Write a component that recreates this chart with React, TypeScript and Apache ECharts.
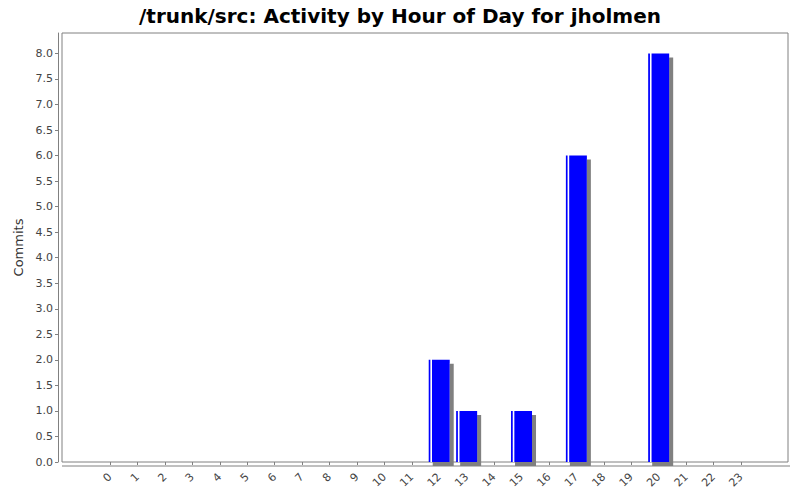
import { useEffect, useRef } from 'react'
import * as echarts from 'echarts'

const hours = [
  '0', '1', '2', '3', '4', '5', '6', '7', '8', '9', '10', '11',
  '12', '13', '14', '15', '16', '17', '18', '19', '20', '21', '22', '23'
]
const commits = [0, 0, 0, 0, 0, 0, 0, 0, 0, 0, 0, 0, 2, 1, 0, 1, 0, 6, 0, 0, 8, 0, 0, 0]

const yMin = 0
const yMax = 8.4
const yStep = 0.5

export default function App() {
  const ref = useRef<HTMLDivElement | null>(null)

  useEffect(() => {
    if (!ref.current) return
    const chart = echarts.init(ref.current, undefined, { renderer: 'svg' })

    const font = 'DejaVu Sans'
    const axisGray = '#808080'

    chart.setOption({
      animation: false,
      backgroundColor: '#ffffff',
      textStyle: { fontFamily: font },
      title: {
        text: '/trunk/src: Activity by Hour of Day for jholmen',
        left: 'center',
        top: 1,
        textStyle: { fontFamily: font, fontWeight: 'bold', fontSize: 20, color: '#000' }
      },
      grid: { left: 96.3, right: 45.3, top: 33, bottom: 38 },
      graphic: [
        {
          type: 'rect',
          shape: { x: 62, y: 33, width: 726, height: 429 },
          style: { fill: 'none', stroke: axisGray, lineWidth: 1 },
          silent: true,
          z: 0
        },
        {
          type: 'line',
          shape: { x1: 62, y1: 466, x2: 790, y2: 466 },
          style: { stroke: axisGray, lineWidth: 1 },
          silent: true
        }
      ],
      xAxis: {
        type: 'category',
        data: hours,
        offset: 4,
        axisLine: { show: false },
        axisTick: { show: true, alignWithLabel: true, length: 3, lineStyle: { color: axisGray } },
        axisLabel: {
          interval: 0,
          rotate: 45,
          fontSize: 11,
          color: '#444',
          fontFamily: font,
          margin: 9
        }
      },
      yAxis: {
        type: 'value',
        name: 'Commits',
        nameLocation: 'middle',
        nameGap: 33,
        nameTextStyle: { fontFamily: font, fontSize: 13, color: '#333' },
        min: yMin,
        max: yMax,
        interval: yStep,
        offset: 38.3,
        axisLine: { show: true, lineStyle: { color: axisGray } },
        axisTick: { show: true, length: 3, lineStyle: { color: axisGray } },
        splitLine: { show: false },
        axisLabel: {
          fontSize: 11,
          color: '#444',
          fontFamily: font,
          margin: 5,
          showMaxLabel: false,
          formatter: (v: number) => v.toFixed(1)
        }
      },
      series: [
        {
          type: 'bar',
          data: commits,
          barWidth: 21,
          itemStyle: {
            color: new echarts.graphic.LinearGradient(0, 0, 1, 0, [
              { offset: 0, color: '#0000ff' },
              { offset: 0.06, color: '#0000ff' },
              { offset: 0.1, color: '#ffffff' },
              { offset: 0.14, color: '#ffffff' },
              { offset: 0.18, color: '#0000ff' },
              { offset: 1, color: '#0000ff' }
            ]),
            shadowColor: '#808080',
            shadowBlur: 0,
            shadowOffsetX: 4,
            shadowOffsetY: 4
          }
        }
      ]
    })

    return () => {
      chart.dispose()
    }
  }, [])

  return <div ref={ref} style={{ width: 800, height: 500, margin: -8 }} />
}
